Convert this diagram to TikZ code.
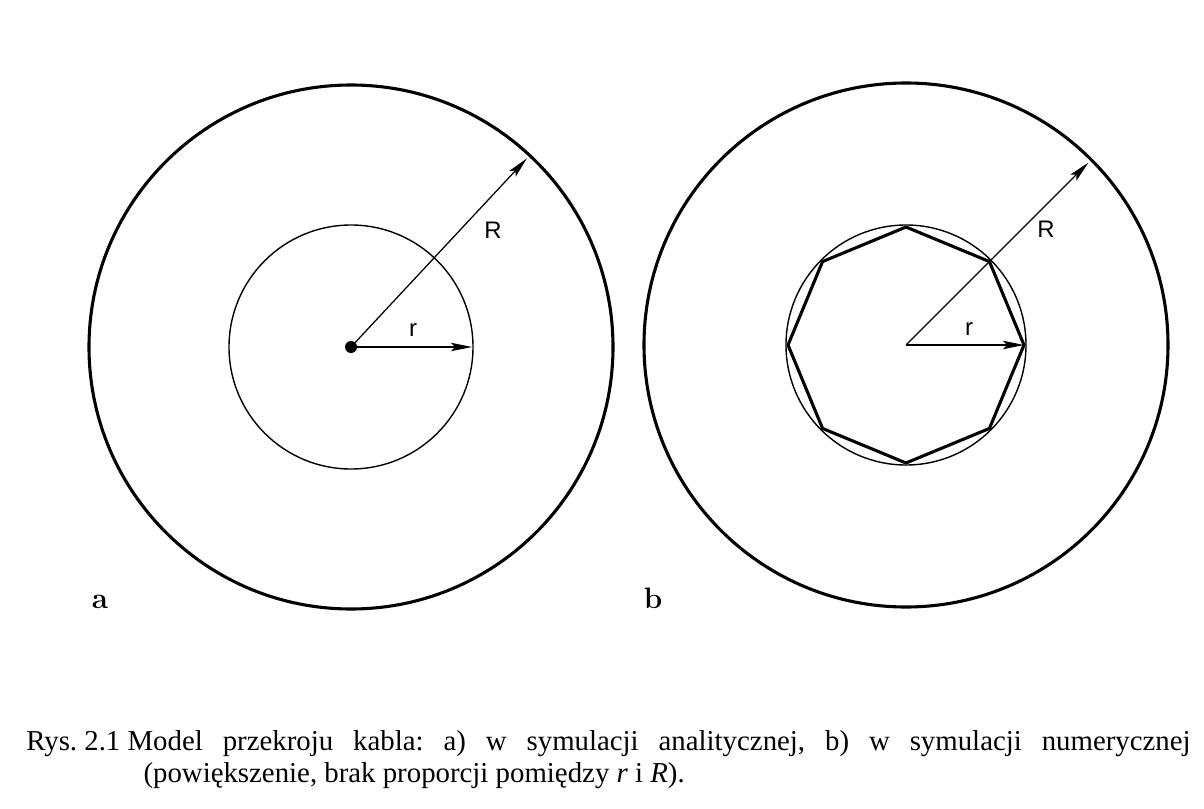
\documentclass[tikz,border=0pt]{standalone}
\usepackage{fontspec}
\newfontfamily\capfont{Liberation Serif}
\newfontfamily\labfont{Liberation Sans}
\usetikzlibrary{arrows.meta,calc}

\begin{document}
\begin{tikzpicture}[x=0.025cm, y=-0.025cm,
  outer/.style={line width=2.2pt},
  inner/.style={line width=1pt},
  octo/.style={line width=2.2pt, line join=round},
  radarrow/.style={line width=0.9pt, -{Stealth[length=15pt,width=6pt,inset=3pt]}},
  lab/.style={font=\labfont\fontsize{17}{20}\selectfont, inner sep=0pt},
  part/.style={font=\bfseries\fontsize{21}{24}\selectfont, inner sep=0pt},
  caption/.style={font=\capfont\fontsize{20.5}{22.8}\selectfont, inner sep=0pt,
    text width=29.1cm, align=justify, anchor=north west}]
\useasboundingbox (0,0) rectangle (1204,809);

% a) analytical model
\coordinate (ca) at (351,347);
\coordinate (Rtipa) at ($(ca)+(-47:258)$);
\coordinate (rtipa) at ($(ca)+(0:121)$);
\draw[outer] (ca) circle[radius=262];
\draw[inner] (ca) circle[radius=122];
\fill (ca) circle[radius=6];
\draw[radarrow] (ca) -- (Rtipa);
\draw[radarrow] (ca) -- (rtipa);
\node[lab] (Rla) at (493,230) {R};
\node[lab] (rla) at (413,330) {r};
\node[part] (pa) at (100,602) {a};

% b) numerical model
\coordinate (cb) at (906,345);
\coordinate (Rtipb) at ($(cb)+(-45:258)$);
\coordinate (rtipb) at ($(cb)+(0:118)$);
\draw[outer] (cb) circle[radius=262];
\draw[inner] (cb) circle[radius=120];
\draw[octo] ($(cb)+(0:118)$) \foreach \a in {45,90,...,315}{ -- ($(cb)+(\a:118)$)} -- cycle;
\draw[radarrow] (cb) -- (Rtipb);
\draw[radarrow] (cb) -- (rtipb);
\node[lab] (Rlb) at (1046,229) {R};
\node[lab] (rlb) at (969,329) {r};
\node[part] (pb) at (653,598) {b};

% caption
\node[caption] (cap) at (26,730) {\frenchspacing\hangindent=2.93cm \hangafter=1
  Rys.\kern0.25em 2.1\kern0.25em Model przekroju kabla: a) w symulacji analitycznej, b) w symulacji numerycznej\linebreak
  (powiększenie, brak proporcji pomiędzy \textit{r} i \textit{R}).\par};
\end{tikzpicture}
\end{document}
